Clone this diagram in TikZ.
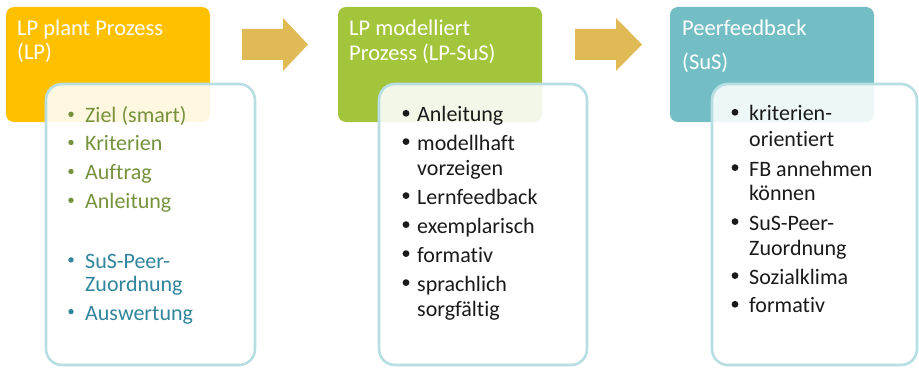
\documentclass[tikz,border=0pt]{standalone}
\usepackage{fontspec}
\setmainfont{Carlito}[Ligatures=NoCommon]
\definecolor{cOrange}{HTML}{FFC000}
\definecolor{cGreen}{HTML}{A3C53C}
\definecolor{cTeal}{HTML}{73BEC5}
\definecolor{cArrow}{HTML}{E0BA55}
\definecolor{cLine}{HTML}{B6DEE3}
\definecolor{cOlive}{HTML}{76923C}
\definecolor{cAqua}{HTML}{31859C}
\definecolor{cDark}{HTML}{1A1A1A}
\begin{document}
\begin{tikzpicture}[x=1pt,y=-1pt,
  headbox/.style={rounded corners=8pt, fill=#1},
  listbox/.style={rounded corners=16pt, draw=cLine, line width=2.6pt, fill=white, fill opacity=0.88},
  ttl/.style={anchor=base west, inner sep=0pt, text=white, font=\fontsize{22.5}{26}\selectfont},
  itm/.style={anchor=base west, inner sep=0pt, text=#1, font=\fontsize{22}{26}\selectfont},
  dotS/.style={circle, fill=#1, inner sep=0pt, minimum size=5.4pt},
  dotL/.style={circle, fill=#1, inner sep=0pt, minimum size=6.8pt},
  blockarrow/.style={fill=cArrow}
]
\useasboundingbox (0,0) rectangle (919,369);

% coloured header boxes
\fill[headbox=cOrange] (6,7) rectangle (210,122);
\fill[headbox=cGreen] (338,7) rectangle (542,122);
\fill[headbox=cTeal] (670,7) rectangle (874,122);

% block arrows
\fill[blockarrow] (242,29) -- (283,29) -- (283,18) -- (308,44.5) -- (283,71) -- (283,60) -- (242,60) -- cycle;
\fill[blockarrow] (575,29) -- (616,29) -- (616,18) -- (642,44.5) -- (616,71) -- (616,60) -- (575,60) -- cycle;

% titles
\node[ttl] (t1a) at (17,36) {LP plant Prozess};
\node[ttl] (t1b) at (17,60) {(LP)};
\node[ttl] (t2a) at (349,36) {LP modelliert};
\node[ttl] (t2b) at (349,60.5) {Prozess (LP-SuS)};
\node[ttl] (t3a) at (682,36) {Peerfeedback};
\node[ttl] (t3b) at (682,69.5) {(SuS)};

% list boxes
\path[listbox] (46,84) rectangle (255,365);
\path[listbox] (379,84) rectangle (587,365);
\path[listbox] (712,84) rectangle (917,365);

% box 1
\node[dotS=cOlive] (b1a) at (71,114.3) {};
\node[itm=cOlive] (l1a) at (85,122.7) {Ziel (smart)};
\node[dotS=cOlive] (b1b) at (71,142.5) {};
\node[itm=cOlive] (l1b) at (85,150.9) {Kriterien};
\node[dotS=cOlive] (b1c) at (71,171.5) {};
\node[itm=cOlive] (l1c) at (85,179.9) {Auftrag};
\node[dotS=cOlive] (b1d) at (71,200.3) {};
\node[itm=cOlive] (l1d) at (85,208.7) {Anleitung};
\node[dotS=cAqua] (b1e) at (71,259.9) {};
\node[itm=cAqua] (l1e) at (85,268.3) {SuS-Peer-};
\node[itm=cAqua] (l1f) at (85,291.8) {Zuordnung};
\node[dotS=cAqua] (b1g) at (71,311.6) {};
\node[itm=cAqua] (l1g) at (85,320) {Auswertung};

% box 2
\node[dotL=cDark] (b2a) at (406,113.3) {};
\node[itm=cDark] (l2a) at (417,121.7) {Anleitung};
\node[dotL=cDark] (b2b) at (406,141.6) {};
\node[itm=cDark] (l2b) at (417,150) {modellhaft};
\node[itm=cDark] (l2c) at (417,175.3) {vorzeigen};
\node[dotL=cDark] (b2d) at (406,195.6) {};
\node[itm=cDark] (l2d) at (417,204) {Lernfeedback};
\node[dotL=cDark] (b2e) at (406,224.6) {};
\node[itm=cDark] (l2e) at (417,233) {exemplarisch};
\node[dotL=cDark] (b2f) at (406,253.6) {};
\node[itm=cDark] (l2f) at (417,262) {formativ};
\node[dotL=cDark] (b2g) at (406,282.6) {};
\node[itm=cDark] (l2g) at (417,291) {sprachlich};
\node[itm=cDark] (l2h) at (417,316.5) {sorgfältig};

% box 3
\node[dotL=cDark] (b3a) at (735,112.3) {};
\node[itm=cDark] (l3a) at (749,120.7) {kriterien-};
\node[itm=cDark] (l3b) at (749,146.5) {orientiert};
\node[dotL=cDark] (b3c) at (735,167.6) {};
\node[itm=cDark] (l3c) at (749,176) {FB annehmen};
\node[itm=cDark] (l3d) at (749,200.8) {können};
\node[dotL=cDark] (b3e) at (735,221.6) {};
\node[itm=cDark] (l3e) at (749,230) {SuS-Peer-};
\node[itm=cDark] (l3f) at (749,255) {Zuordnung};
\node[dotL=cDark] (b3g) at (735,275.6) {};
\node[itm=cDark] (l3g) at (749,284) {Sozialklima};
\node[dotL=cDark] (b3h) at (735,304.3) {};
\node[itm=cDark] (l3h) at (749,312.7) {formativ};
\end{tikzpicture}
\end{document}
